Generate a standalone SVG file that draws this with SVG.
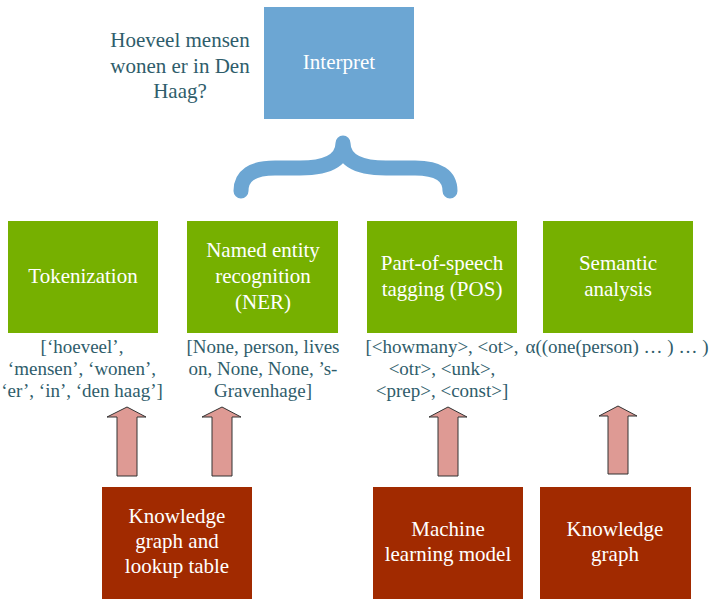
<svg xmlns="http://www.w3.org/2000/svg" width="709" height="599" viewBox="0 0 709 599" font-family="Liberation Serif">
<style>
text{font-family:'Liberation Serif','Times New Roman',serif;text-anchor:middle}
.w{fill:#ffffff;font-size:21px}
.q{fill:#2F5D6B;font-size:21px}
.l{fill:#2F5D6B;font-size:19px}
.blue{fill:#6CA6D3}
.green{fill:#76B000}
.red{fill:#A12A00}
.arr{fill:#DE9A94;stroke:#333333;stroke-width:1}
</style>
<rect width="709" height="599" fill="#ffffff"/>
<g id="question">
<text class="q" x="180" y="47">Hoeveel mensen</text>
<text class="q" x="180" y="73">wonen er in Den</text>
<text class="q" x="180" y="98">Haag?</text>
</g>
<g id="interpret">
<rect class="blue" x="264" y="7" width="150" height="112"/>
<text class="w" x="339" y="69">Interpret</text>
</g>
<g id="brace">
<path d="M241,191 Q241,168 275,168 L300,168 Q343,168 343,143 Q343,168 386,168 L415,168 Q450,168 450,191" fill="none" stroke="#6CA6D3" stroke-width="15" stroke-linecap="round" stroke-linejoin="round"/>
</g>
<g id="tokenization">
<rect class="green" x="8" y="221" width="150" height="112"/>
<text class="w" x="83" y="283">Tokenization</text>
<text class="l" x="82" y="353">[‘hoeveel’,</text>
<text class="l" x="82" y="375">‘mensen’, ‘wonen’,</text>
<text class="l" x="82" y="397">‘er’, ‘in’, ‘den haag’]</text>
</g>
<g id="ner">
<rect class="green" x="187" y="221" width="151" height="112"/>
<text class="w" x="263" y="257">Named entity</text>
<text class="w" x="263" y="283">recognition</text>
<text class="w" x="263" y="309">(NER)</text>
<text class="l" x="263" y="353">[None, person, lives</text>
<text class="l" x="263" y="375">on, None, None, ’s-</text>
<text class="l" x="263" y="397">Gravenhage]</text>
</g>
<g id="pos">
<rect class="green" x="367" y="221" width="150" height="112"/>
<text class="w" x="442" y="270">Part-of-speech</text>
<text class="w" x="442" y="296">tagging (POS)</text>
<text class="l" x="442" y="353">[&lt;howmany&gt;, &lt;ot&gt;,</text>
<text class="l" x="442" y="375">&lt;otr&gt;, &lt;unk&gt;,</text>
<text class="l" x="442" y="397">&lt;prep&gt;, &lt;const&gt;]</text>
</g>
<g id="semantic">
<rect class="green" x="543" y="221" width="150" height="112"/>
<text class="w" x="618" y="270">Semantic</text>
<text class="w" x="618" y="296">analysis</text>
<text class="l" x="617" y="353">α((one(person) … ) … )</text>
</g>
<g id="connectors">
<polygon class="arr" points="117,476 117,417 107,417 127,407 146,417 137,417 137,476"/>
<polygon class="arr" points="212,476 212,417 202,417 222,407 241,417 232,417 232,476"/>
<polygon class="arr" points="438,476 438,417 429,417 448,407 467,417 458,417 458,476"/>
<polygon class="arr" points="608,474 608,416 599,416 618,406 637,416 628,416 628,474"/>
</g>
<g id="kg-lookup">
<rect class="red" x="102" y="487" width="150" height="112"/>
<text class="w" x="177" y="523">Knowledge</text>
<text class="w" x="177" y="548">graph and</text>
<text class="w" x="177" y="573">lookup table</text>
</g>
<g id="ml-model">
<rect class="red" x="373" y="487" width="150" height="112"/>
<text class="w" x="448" y="536">Machine</text>
<text class="w" x="448" y="561">learning model</text>
</g>
<g id="kg">
<rect class="red" x="540" y="487" width="151" height="112"/>
<text class="w" x="615" y="536">Knowledge</text>
<text class="w" x="615" y="561">graph</text>
</g>
</svg>
